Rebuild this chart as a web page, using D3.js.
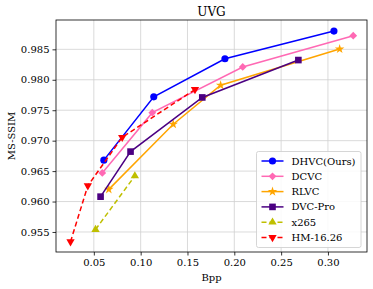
<!DOCTYPE html>
<html>
<head>
<meta charset="utf-8">
<script src="https://cdn.jsdelivr.net/npm/d3@7"></script>
<style>
  body { margin: 0; background: #fff; }
  svg { font-family: "DejaVu Serif", serif; }
  .grid line { stroke: #d0d0d0; stroke-width: 0.8; }
</style>
</head>
<body>
<svg id="chart"></svg>
<script>
// Data
const xTicks = [0.05, 0.10, 0.15, 0.20, 0.25, 0.30];
const yTicks = [0.955, 0.960, 0.965, 0.970, 0.975, 0.980, 0.985];

const dhvc   = [[0.0607, 0.9668], [0.114, 0.9772], [0.190, 0.98345], [0.3064, 0.9880]];
const dcvc   = [[0.059, 0.9647], [0.1124, 0.9746], [0.209, 0.9821], [0.327, 0.98724]];
const rlvc   = [[0.066, 0.9620], [0.1348, 0.9727], [0.1854, 0.9791], [0.3125, 0.98505]];
const dvcPro = [[0.0572, 0.9608], [0.0892, 0.9682], [0.1658, 0.9771], [0.2684, 0.98324]];
const x265   = [[0.0518, 0.9554], [0.0938, 0.9642]];
const hm     = [[0.0251, 0.9534], [0.0436, 0.9626], [0.0803, 0.97055], [0.158, 0.9784]];

const series = [
  { name: 'DHVC(Ours)', data: dhvc,   color: '#0000ff', symbol: d3.symbolCircle,  size: 40, dash: null },
  { name: 'DCVC',       data: dcvc,   color: '#ff69b4', symbol: d3.symbolSquare,  size: 30, dash: null, rot: 45 },
  { name: 'RLVC',       data: rlvc,   color: '#ffa500', symbol: d3.symbolStar,    size: 28, dash: null },
  { name: 'DVC-Pro',    data: dvcPro, color: '#4b0082', symbol: d3.symbolSquare,  size: 44, dash: null },
  { name: 'x265',       data: x265,   color: '#bfbf00', symbol: d3.symbolTriangle, size: 30, dash: '5,3', rot: 0 },
  { name: 'HM-16.26',   data: hm,     color: '#ff0000', symbol: d3.symbolTriangle, size: 30, dash: '5,3', rot: 180 }
];

// Layout
const W = 373, H = 289;
const margin = { top: 20, right: 6, bottom: 37, left: 56 };
const width = W - margin.left - margin.right;
const height = H - margin.top - margin.bottom;

const svg = d3.select('#chart').attr('width', W).attr('height', H);
const g = svg.append('g').attr('transform', `translate(${margin.left},${margin.top})`);

const x = d3.scaleLinear().domain([0.0096, 0.3417]).range([0, width]);
const y = d3.scaleLinear().domain([0.95171, 0.98982]).range([height, 0]);

// Grid
g.append('g').attr('class', 'grid')
  .selectAll('line').data(xTicks).enter().append('line')
  .attr('x1', d => x(d)).attr('x2', d => x(d)).attr('y1', 0).attr('y2', height);
g.append('g').attr('class', 'grid')
  .selectAll('line').data(yTicks).enter().append('line')
  .attr('y1', d => y(d)).attr('y2', d => y(d)).attr('x1', 0).attr('x2', width);

// Axes
const xAxis = g.append('g').attr('transform', `translate(0,${height})`)
  .call(d3.axisBottom(x).tickValues(xTicks).tickFormat(d3.format('.2f')).tickSizeOuter(0).tickSize(3.5).tickPadding(3));
const yAxis = g.append('g')
  .call(d3.axisLeft(y).tickValues(yTicks).tickFormat(d3.format('.3f')).tickSizeOuter(0).tickSize(3.5).tickPadding(3));
[xAxis, yAxis].forEach(a => {
  a.select('.domain').remove();
  a.selectAll('text').attr('font-size', 10).attr('font-family', 'DejaVu Serif').attr('fill', '#000');
  a.selectAll('line').attr('stroke', '#000').attr('stroke-width', 0.8);
});

// Frame
g.append('rect').attr('width', width).attr('height', height)
  .attr('fill', 'none').attr('stroke', '#000').attr('stroke-width', 0.8);

// Lines and markers
const line = d3.line().x(d => x(d[0])).y(d => y(d[1]));

series.forEach(s => {
  g.append('path').datum(s.data)
    .attr('d', line)
    .attr('fill', 'none')
    .attr('stroke', s.color)
    .attr('stroke-width', 1.5)
    .attr('stroke-dasharray', s.dash);
  g.selectAll(null).data(s.data).enter().append('path')
    .attr('d', d3.symbol().type(s.symbol).size(s.size))
    .attr('transform', d => `translate(${x(d[0])},${y(d[1])}) rotate(${s.rot || 0})`)
    .attr('fill', s.color);
});

// Title and axis labels
svg.append('text').attr('x', margin.left + width / 2).attr('y', 16)
  .attr('text-anchor', 'middle').attr('font-size', 12).text('UVG');
svg.append('text').attr('x', margin.left + width / 2).attr('y', 281)
  .attr('text-anchor', 'middle').attr('font-size', 10).text('Bpp');
svg.append('text').attr('transform', `translate(15,${margin.top + height / 2}) rotate(-90)`)
  .attr('text-anchor', 'middle').attr('font-size', 10).text('MS-SSIM');

// Legend
const legend = svg.append('g').attr('transform', 'translate(256.5,151.5)');
legend.append('rect').attr('width', 104.5).attr('height', 96).attr('rx', 2)
  .attr('fill', '#fff').attr('fill-opacity', 0.85).attr('stroke', '#ccc').attr('stroke-width', 0.8);
series.forEach((s, i) => {
  const ly = 9.5 + i * 15.3;
  legend.append('line').attr('x1', 5).attr('x2', 27).attr('y1', ly).attr('y2', ly)
    .attr('stroke', s.color).attr('stroke-width', 1.5).attr('stroke-dasharray', s.dash);
  legend.append('path').attr('d', d3.symbol().type(s.symbol).size(s.size))
    .attr('transform', `translate(16,${ly}) rotate(${s.rot || 0})`).attr('fill', s.color);
  legend.append('text').attr('x', 35).attr('y', ly).attr('dy', '0.35em')
    .attr('font-size', 10).text(s.name);
});
</script>
</body>
</html>
